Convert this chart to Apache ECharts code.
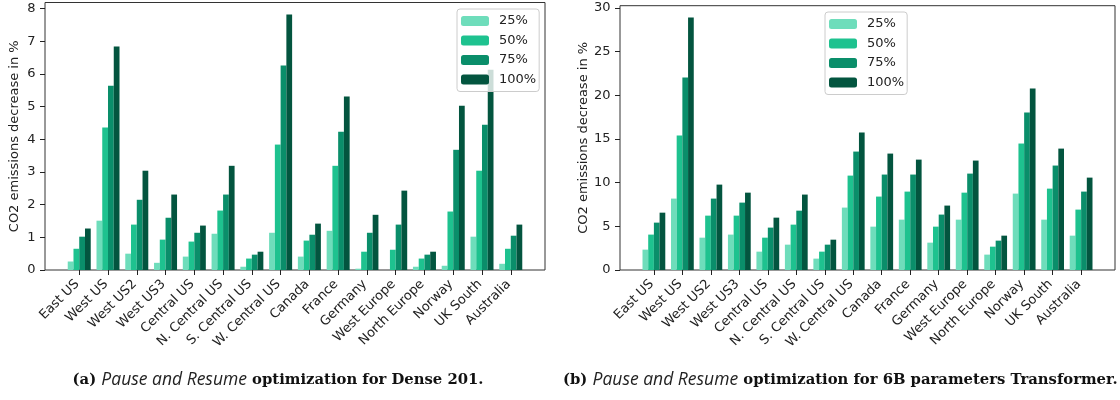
<!DOCTYPE html>
<html>
<head>
<meta charset="utf-8">
<script src="https://cdn.jsdelivr.net/npm/echarts@6/dist/echarts.min.js"></script>
<style>
html,body{margin:0;padding:0;background:#fff;}
#chart{width:1120px;height:400px;}
</style>
</head>
<body>
<div id="chart"></div>
<script>
const categories = ['East US','West US','West US2','West US3','Central US','N. Central US','S. Central US','W. Central US','Canada','France','Germany','West Europe','North Europe','Norway','UK South','Australia'];
const seriesNames = ['25%','50%','75%','100%'];

// (a) Dense 201
const dense25  = [0.26,1.51,0.50,0.22,0.41,1.11,0.10,1.14,0.41,1.20,0.04,0.00,0.10,0.13,1.02,0.19];
const dense50  = [0.65,4.36,1.39,0.93,0.87,1.82,0.35,3.84,0.90,3.19,0.56,0.62,0.35,1.79,3.04,0.65];
const dense75  = [1.02,5.64,2.15,1.60,1.14,2.31,0.47,6.26,1.08,4.23,1.14,1.39,0.47,3.68,4.45,1.05];
const dense100 = [1.27,6.84,3.04,2.31,1.36,3.19,0.56,7.82,1.42,5.31,1.69,2.43,0.56,5.03,6.13,1.39];

// (b) 6B parameters Transformer
const trans25  = [2.33,8.17,3.70,4.05,2.10,2.90,1.30,7.14,4.96,5.76,3.13,5.76,1.76,8.74,5.76,3.93];
const trans50  = [4.05,15.38,6.22,6.22,3.70,5.19,2.10,10.80,8.40,8.97,4.96,8.85,2.67,14.47,9.31,6.91];
const trans75  = [5.42,22.02,8.17,7.71,4.85,6.79,2.90,13.55,10.92,10.92,6.34,11.03,3.36,18.02,11.95,8.97];
const trans100 = [6.56,28.89,9.77,8.85,5.99,8.63,3.47,15.73,13.32,12.63,7.37,12.52,3.93,20.76,13.89,10.57];

const yLabel = 'CO2 emissions decrease in %';
const captionA = ['(a) ', 'Pause and Resume', ' optimization for Dense 201.'];
const captionB = ['(b) ', 'Pause and Resume', ' optimization for 6B parameters Transformer.'];

const colors = ['#6EDDBB','#1EC28F','#0A8E6A','#03553F'];
const ink = '#222';

const chart = echarts.init(document.getElementById('chart'), null, {renderer:'canvas'});

function frameGrid(left, top, width, height){
  return {left, top, width, height, show:true, borderColor:'#333', borderWidth:1, backgroundColor:'transparent', containLabel:false};
}
function intLabel(v){ return Math.abs(v - Math.round(v)) < 1e-9 ? String(Math.round(v)) : ''; }

const gA = {left:45, top:2.5, width:500, height:267.5};
const gB = {left:620, top:5.7, width:495, height:264.3};
const unitA = gA.width/17.38, unitB = gB.width/17.38;

const grids = [
  frameGrid(gA.left, gA.top, gA.width, gA.height),
  {left: gA.left + 1.19*unitA - unitA/2, top:gA.top, width:16*unitA, height:gA.height},
  frameGrid(gB.left, gB.top, gB.width, gB.height),
  {left: gB.left + 1.19*unitB - unitB/2, top:gB.top, width:16*unitB, height:gB.height}
];

function frameX(gi){ return {gridIndex:gi, type:'value', show:false, min:0, max:1}; }
function catX(gi){
  return {gridIndex:gi, type:'category', data:categories, boundaryGap:true,
    axisLine:{show:false},
    axisTick:{show:true, alignWithLabel:true, length:5, lineStyle:{color:ink, width:1}},
    axisLabel:{interval:0, rotate:45, fontSize:13, color:ink, margin:10, padding:[0,3,0,0], fontFamily:'DejaVu Sans'},
    splitLine:{show:false}};
}
function visY(gi, max, interval){
  return {gridIndex:gi, type:'value', min:0, max:max, interval:interval,
    axisLine:{show:false},
    axisTick:{show:true, length:5, lineStyle:{color:ink, width:1}},
    axisLabel:{fontSize:13, color:ink, margin:9.5, fontFamily:'DejaVu Sans', formatter:intLabel, showMaxLabel:false},
    splitLine:{show:false},
    name:yLabel, nameLocation:'middle', nameGap:24, nameRotate:90,
    nameTextStyle:{fontSize:13, color:ink, fontFamily:'DejaVu Sans'}};
}
function hidY(gi, max){ return {gridIndex:gi, type:'value', min:0, max:max, show:false}; }

function barSeries(arrs, xi, yi){
  return arrs.map((d,k)=>({
    name:seriesNames[k], type:'bar', xAxisIndex:xi, yAxisIndex:yi, data:d,
    barWidth:'20%', barGap:'0%', itemStyle:{color:colors[k]}, animation:false, z:2
  }));
}

function legendAt(left, top){
  return {data:seriesNames, orient:'vertical', left, top,
    itemWidth:28, itemHeight:10, itemGap:5.5,
    padding:[5,3,5,4], backgroundColor:'rgba(255,255,255,0.8)',
    borderColor:'#cccccc', borderWidth:1, borderRadius:3,
    textStyle:{fontSize:13, color:ink, fontFamily:'DejaVu Sans', lineHeight:14, padding:[0,0,0,5]},
    selectedMode:false, z:10};
}

function caption(parts, x, align){
  return {type:'text', x:x, y:380, z:10,
    style:{text:'{b|'+parts[0]+'}{i|'+parts[1]+'}{b|'+parts[2]+'}', align:align, verticalAlign:'middle',
      rich:{
        b:{fontFamily:'DejaVu Serif', fontWeight:'bold', fontSize:14.8, fill:'#111'},
        i:{fontFamily:'Open Sans', fontStyle:'italic', fontSize:17.5, fill:'#222'}
      }}};
}

const option = {
  animation:false,
  backgroundColor:'#fff',
  color:colors,
  grid:grids,
  xAxis:[frameX(0), catX(1), frameX(2), catX(3)],
  yAxis:[visY(0, 8.19, 1), hidY(1, 8.19), visY(2, 30.24, 5), hidY(3, 30.24)],
  legend:[legendAt(457, 9), legendAt(825, 12)],
  series:[].concat(
    barSeries([dense25,dense50,dense75,dense100], 1, 1),
    barSeries([trans25,trans50,trans75,trans100], 3, 3)
  ),
  graphic:[caption(captionA, 278, 'center'), caption(captionB, 563, 'left')]
};
chart.setOption(option);
</script>
</body>
</html>
